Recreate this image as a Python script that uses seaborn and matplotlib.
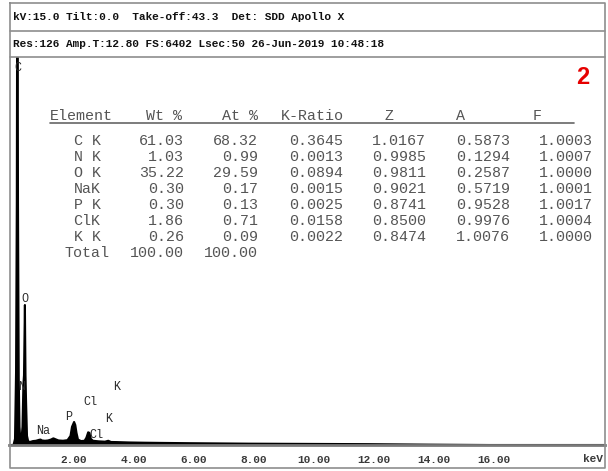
import matplotlib
matplotlib.use("Agg")
import matplotlib.pyplot as plt
import matplotlib.transforms as mtransforms
import seaborn as sns
import pandas as pd

# ---------------- data ----------------
header_line1 = "kV:15.0 Tilt:0.0  Take-off:43.3  Det: SDD Apollo X"
header_line2 = "Res:126 Amp.T:12.80 FS:6402 Lsec:50 26-Jun-2019 10:48:18"
sample_tag = "2"
full_scale = 6402

table_header = ["Element", "Wt %", "At %", "K-Ratio", "Z", "A", "F"]
elements = ["C K", "N K", "O K", "NaK", "P K", "ClK", "K K"]
wt_pct = [61.03, 1.03, 35.22, 0.30, 0.30, 1.86, 0.26]
at_pct = [68.32, 0.99, 29.59, 0.17, 0.13, 0.71, 0.09]
k_ratio = [0.3645, 0.0013, 0.0894, 0.0015, 0.0025, 0.0158, 0.0022]
z_corr = [1.0167, 0.9985, 0.9811, 0.9021, 0.8741, 0.8500, 0.8474]
a_corr = [0.5873, 0.1294, 0.2587, 0.5719, 0.9528, 0.9976, 1.0076]
f_corr = [1.0003, 1.0007, 1.0000, 1.0001, 1.0017, 1.0004, 1.0000]
total_label = "Total"
wt_total = 100.00
at_total = 100.00

energy_keV = [0.00, 0.15, 0.20, 0.235, 0.26, 0.28, 0.30, 0.325, 0.35, 0.38,
              0.41, 0.45, 0.48, 0.50, 0.53, 0.55, 0.57, 0.60, 0.64, 0.70,
              0.80, 0.90, 1.00, 1.05, 1.10, 1.20, 1.30, 1.40, 1.48, 1.55,
              1.65, 1.80, 1.95, 2.05, 2.10, 2.17, 2.21, 2.25, 2.30, 2.40,
              2.52, 2.58, 2.64, 2.68, 2.73, 2.80, 3.00, 3.20, 3.31, 3.40,
              3.60, 4.00, 4.50, 5.00, 6.00, 7.00, 8.00, 9.00, 10.00, 11.00,
              12.00, 13.00, 14.00, 15.00, 16.00, 19.87]
counts = [0, 0, 100, 1200, 4000, 9500, 4000, 1100, 300, 60,
          60, 300, 1000, 1150, 2310, 1150, 700, 150, 60, 50,
          65, 70, 85, 90, 75, 70, 75, 90, 110, 95,
          75, 70, 80, 150, 300, 380, 330, 200, 90, 65,
          70, 120, 210, 200, 100, 70, 60, 55, 70, 50,
          48, 42, 38, 35, 30, 26, 22, 20, 18, 16,
          14, 10, 6, 3, 0, 0]

peak_labels = ["C", "N", "O", "Na", "P", "Cl", "Cl", "K", "K"]
peak_label_keV = [0.30, 0.42, 0.52, 1.15, 2.00, 2.72, 2.90, 3.58, 3.32]
peak_label_counts = [6220, 960, 2410, 230, 460, 710, 165, 960, 430]

xtick_values = [2, 4, 6, 8, 10, 12, 14, 16]
xtick_labels = ["2.00", "4.00", "6.00", "8.00", "10.00", "12.00", "14.00", "16.00"]
x_unit = "keV"

# ---------------- style ----------------
sns.set_style("white")
plt.rcParams["font.family"] = ["Liberation Mono", "DejaVu Sans"]

W, H = 608, 471
fig = plt.figure(figsize=(W / 100, H / 100), dpi=100)
fig.patch.set_facecolor("white")

# spectrum axes (pixel box: x 9..605, y 57..445)
ax = fig.add_axes([9 / W, (H - 445) / H, (605 - 9) / W, (445 - 57) / H])
spec = pd.DataFrame({"energy": energy_keV, "counts": counts})
sns.lineplot(data=spec, x="energy", y="counts", color="black", lw=1.5, ax=ax)
ax.fill_between(spec["energy"], spec["counts"], color="black", lw=0)
ax.set_xlim(0, 19.87)
ax.set_ylim(0, full_scale)
ax.set_yticks([])
ax.set_xlabel("")
ax.set_ylabel("")
for s in ["left", "right", "top"]:
    ax.spines[s].set_visible(False)
ax.spines["bottom"].set_color("#7a7a7a")
ax.spines["bottom"].set_linewidth(2.0)
ax.set_xticks(xtick_values)
ax.set_xticklabels(xtick_labels)
ax.tick_params(axis="x", direction="inout", length=6, width=1, color="#666666",
               labelsize=8, labelcolor="#3a3a3a", pad=4)
offset = mtransforms.ScaledTranslation(5 / 100, 0, fig.dpi_scale_trans)
for lab in ax.get_xticklabels():
    lab.set_transform(lab.get_transform() + offset)
    lab.set_fontweight("bold")
ax.patch.set_alpha(0)

for lbl, ex, cy in zip(peak_labels, peak_label_keV, peak_label_counts):
    ax.text(ex, cy, lbl, ha="center", va="center", fontsize=8.5, color="#2a2a2a")

# overlay for frame, header, table
ov = fig.add_axes([0, 0, 1, 1], zorder=5)
ov.set_xlim(0, W)
ov.set_ylim(H, 0)
ov.axis("off")
ov.patch.set_alpha(0)

fc = "#8e8e8e"
ov.plot([10, 605, 605, 10, 10], [3, 3, 468, 468, 3], color=fc, lw=1.2)
ov.plot([10, 605], [31, 31], color=fc, lw=1.2)
ov.plot([10, 605], [57, 57], color=fc, lw=1.2)

ov.text(13, 17, header_line1, ha="left", va="center", fontsize=8,
        fontweight="bold", color="#111111")
ov.text(13, 44, header_line2, ha="left", va="center", fontsize=8,
        fontweight="bold", color="#111111")

ov.text(583, 77, sample_tag, ha="center", va="center", fontsize=17,
        fontweight="bold", color="#e60000", family="Liberation Sans")

ov.text(603, 459, x_unit, ha="right", va="center", fontsize=8,
        fontweight="bold", color="#3a3a3a")

tc = "#555555"
fs = 10.8
hy = 116
ov.text(50, hy, table_header[0], ha="left", va="center", fontsize=fs, color=tc)
ov.text(182, hy, table_header[1], ha="right", va="center", fontsize=fs, color=tc)
ov.text(258, hy, table_header[2], ha="right", va="center", fontsize=fs, color=tc)
ov.text(281, hy, table_header[3], ha="left", va="center", fontsize=fs, color=tc)
ov.text(389, hy, table_header[4], ha="center", va="center", fontsize=fs, color=tc)
ov.text(460, hy, table_header[5], ha="center", va="center", fontsize=fs, color=tc)
ov.text(537, hy, table_header[6], ha="center", va="center", fontsize=fs, color=tc)
ov.plot([50, 574], [123, 123], color="#666666", lw=1.2)

y0, dy = 141, 16
for i, el in enumerate(elements):
    y = y0 + i * dy
    ov.text(87, y, el, ha="center", va="center", fontsize=fs, color=tc)
    ov.text(184, y, f"{wt_pct[i]:.2f}", ha="right", va="center", fontsize=fs, color=tc)
    ov.text(258, y, f"{at_pct[i]:.2f}", ha="right", va="center", fontsize=fs, color=tc)
    ov.text(343, y, f"{k_ratio[i]:.4f}", ha="right", va="center", fontsize=fs, color=tc)
    ov.text(426, y, f"{z_corr[i]:.4f}", ha="right", va="center", fontsize=fs, color=tc)
    ov.text(510, y, f"{a_corr[i]:.4f}", ha="right", va="center", fontsize=fs, color=tc)
    ov.text(593, y, f"{f_corr[i]:.4f}", ha="right", va="center", fontsize=fs, color=tc)
yt = y0 + len(elements) * dy
ov.text(87, yt, total_label, ha="center", va="center", fontsize=fs, color=tc)
ov.text(184, yt, f"{wt_total:.2f}", ha="right", va="center", fontsize=fs, color=tc)
ov.text(258, yt, f"{at_total:.2f}", ha="right", va="center", fontsize=fs, color=tc)

fig.savefig("out.png", dpi=100, facecolor="white")
